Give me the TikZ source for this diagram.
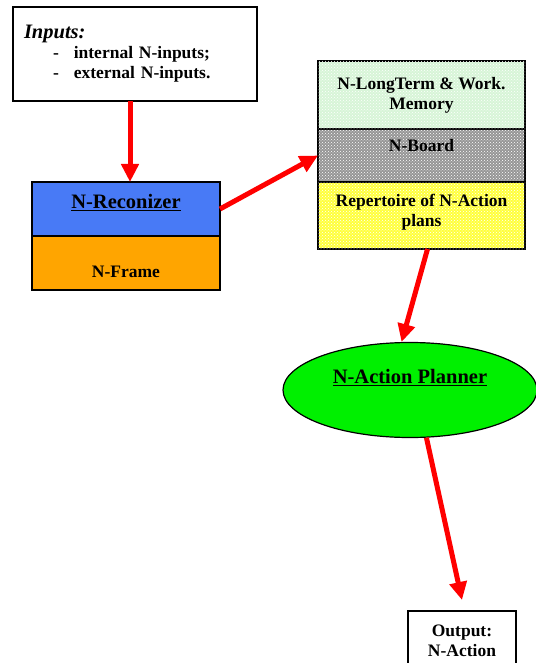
\documentclass[tikz,border=0pt]{standalone}
\usepackage{fontspec}
\setmainfont{Liberation Serif}
\usetikzlibrary{positioning,shapes.geometric,arrows.meta,patterns}

\definecolor{reconblue}{RGB}{72,122,246}
\definecolor{frameorange}{RGB}{255,165,0}
\definecolor{memorygreen}{RGB}{215,245,215}
\definecolor{boardgray}{RGB}{150,150,150}
\definecolor{repyellow}{RGB}{255,255,60}
\definecolor{plannergreen}{RGB}{0,240,0}
\definecolor{arrowred}{RGB}{255,0,0}

\tikzset{
    block/.style={draw=black, line width=1.2pt, outer sep=0pt, inner sep=2pt,
        minimum width=#1, align=center,
        font=\fontsize{17.5}{20}\selectfont\bfseries},
    titlefont/.style={font=\fontsize{20.5}{24}\selectfont\bfseries},
    dots/.style={postaction={pattern=crosshatch dots, pattern color=white}},
    link/.style={draw=arrowred, line width=5pt,
        -{Triangle[length=18pt,width=17pt]}}
}

\begin{document}
\begin{tikzpicture}[x=1pt,y=-1pt]
    \useasboundingbox (0,0) rectangle (535,663);

    % inputs
    \node[block=244pt, minimum height=94pt, text width=222pt, inner xsep=11pt,
        align=left, fill=white] (inputs) at (135,54) {
        {\fontsize{20.5}{20}\selectfont\textit{Inputs:}}\\
        \hspace*{29pt}-\hspace{15pt}internal N-inputs;\\
        \hspace*{29pt}-\hspace{15pt}external N-inputs.
    };

    % recognizer and frame
    \node[block=188pt, minimum height=54pt, fill=reconblue, titlefont,
        text depth=16pt] (recon) at (126,209) {\underline{N-Reconizer}};
    \node[block=188pt, minimum height=54pt, fill=frameorange,
        text height=30pt, below=0pt of recon] (frame) {N-Frame};

    % memory stack
    \node[block=207pt, minimum height=68pt, fill=memorygreen, dots]
        (memory) at (421.5,95) {N-LongTerm \& Work.\\Memory};
    \node[block=207pt, minimum height=53pt, fill=boardgray, dots,
        text depth=20pt, below=0pt of memory] (board) {N-Board};
    \node[block=207pt, minimum height=67pt, fill=repyellow, dots,
        text depth=10pt, below=0pt of board] (rep) {Repertoire of N-Action\\plans};

    % planner
    \node[ellipse, draw=black, line width=1.2pt, fill=plannergreen, titlefont,
        minimum width=254pt, minimum height=95pt, inner sep=0pt,
        text depth=28pt] (planner) at (410,390) {\underline{N-Action Planner}};

    % output
    \node[block=108pt, minimum height=60pt, fill=white]
        (out) at (462,641) {Output:\\N-Action};

    \draw[link] ([xshift=-5pt]inputs.south) -- ([xshift=4pt]recon.north);
    \draw[link] (recon.east) -- (board.west);
    \draw[link] ([xshift=6pt]rep.south) -- (planner.100);
    \draw[link] (planner.289) -- ([yshift=11pt]out.north);

\end{tikzpicture}
\end{document}
